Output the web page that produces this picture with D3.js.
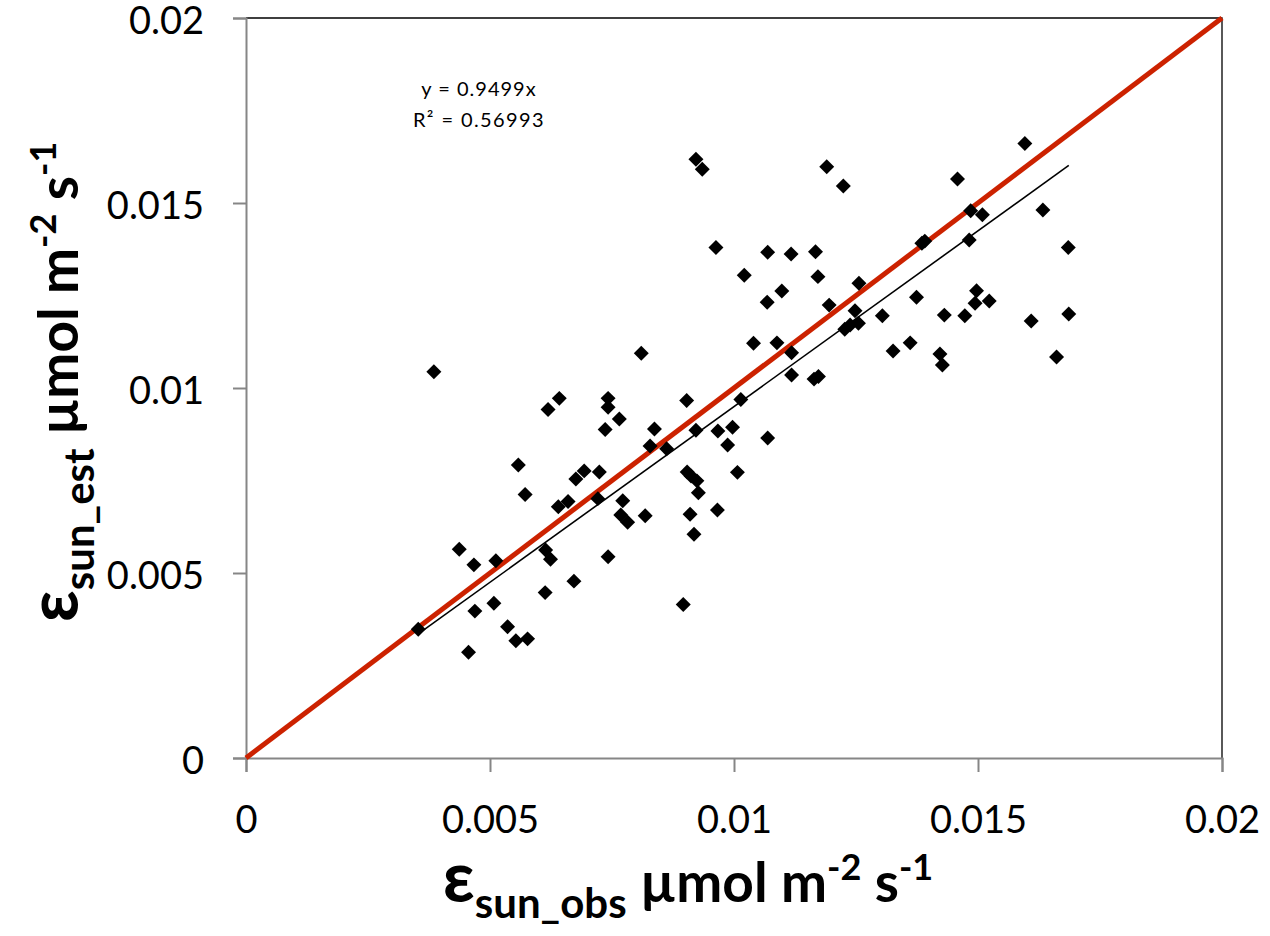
<!DOCTYPE html>
<html>
<head>
<meta charset="utf-8">
<script src="https://cdn.jsdelivr.net/npm/d3@7"></script>
<style>
  body { margin: 0; background: #fff; }
  svg text { font-family: Lato, "Open Sans", sans-serif; }
</style>
</head>
<body>
<div id="chart"></div>
<script>
// observed vs estimated epsilon (sun)
const obsValues = [
  0.00353, 0.00385, 0.00437, 0.00456, 0.00467, 0.00469, 0.00508, 0.00512, 0.00536, 0.00553,
  0.00558, 0.00572, 0.00577, 0.00613, 0.00614, 0.00619, 0.00624, 0.00640, 0.00642, 0.00660,
  0.00672, 0.00676, 0.00693, 0.00724, 0.00721, 0.00736, 0.00742, 0.00742, 0.00742, 0.00765,
  0.00772, 0.00768, 0.00782, 0.00810, 0.00818, 0.00828, 0.00837, 0.00862, 0.00896, 0.00903,
  0.00904, 0.00912, 0.00924, 0.00927, 0.00910, 0.00918, 0.00922, 0.00935, 0.00922, 0.00963,
  0.00967, 0.00966, 0.00987, 0.00997, 0.01007, 0.01014, 0.01021, 0.01040, 0.01069, 0.01068,
  0.01069, 0.01088, 0.01098, 0.01117, 0.01118, 0.01118, 0.01164, 0.01173, 0.01167, 0.01172,
  0.01190, 0.01195, 0.01224, 0.01227, 0.01238, 0.01255, 0.01248, 0.01256, 0.01304, 0.01326,
  0.01361, 0.01374, 0.01385, 0.01391, 0.01422, 0.01427, 0.01431, 0.01458, 0.01473, 0.01482,
  0.01485, 0.01497, 0.01494, 0.01509, 0.01523, 0.01596, 0.01609, 0.01633, 0.01661, 0.01685,
  0.01686
];
const estValues = [
  0.00348, 0.01044, 0.00564, 0.00286, 0.00522, 0.00397, 0.00418, 0.00533, 0.00355, 0.00317,
  0.00792, 0.00712, 0.00322, 0.00447, 0.00562, 0.00942, 0.00537, 0.00679, 0.00972, 0.00693,
  0.00478, 0.00754, 0.00776, 0.00773, 0.00701, 0.00888, 0.00972, 0.00948, 0.00544, 0.00916,
  0.00695, 0.00657, 0.00637, 0.01094, 0.00655, 0.00843, 0.00889, 0.00836, 0.00415, 0.00966,
  0.00773, 0.00762, 0.00749, 0.00717, 0.00659, 0.00605, 0.01618, 0.01591, 0.00886, 0.01380,
  0.00884, 0.00670, 0.00846, 0.00894, 0.00772, 0.00969, 0.01305, 0.01121, 0.01367, 0.01232,
  0.00865, 0.01122, 0.01262, 0.01362, 0.01095, 0.01035, 0.01024, 0.01031, 0.01368, 0.01301,
  0.01598, 0.01224, 0.01546, 0.01159, 0.01170, 0.01175, 0.01209, 0.01283, 0.01195, 0.01100,
  0.01122, 0.01245, 0.01391, 0.01397, 0.01092, 0.01062, 0.01197, 0.01565, 0.01195, 0.01400,
  0.01479, 0.01263, 0.01229, 0.01468, 0.01235, 0.01661, 0.01181, 0.01481, 0.01084, 0.01380,
  0.01200
];
const axisTicks = [0, 0.005, 0.01, 0.015, 0.02];
const trendSlope = 0.9499;
const trendLabel = "y = 0.9499x";
const r2Label = "R² = 0.56993";

const width = 1270, height = 936;
const margin = { top: 18, right: 48, bottom: 178, left: 246 };
const plotW = width - margin.left - margin.right;
const plotH = height - margin.top - margin.bottom;

const svg = d3.select("#chart").append("svg")
    .attr("width", width)
    .attr("height", height);

const g = svg.append("g")
    .attr("transform", `translate(${margin.left},${margin.top})`);

const x = d3.scaleLinear().domain([0, 0.02]).range([0, plotW]);
const y = d3.scaleLinear().domain([0, 0.02]).range([plotH, 0]);

// plot frame (top + right)
g.append("path")
    .attr("d", `M0,0H${plotW}V${plotH}`)
    .attr("fill", "none")
    .attr("stroke", "#000")
    .attr("stroke-width", 1.3);

const fmt = d => d === 0 ? "0" : String(+d.toFixed(3));

const xAxis = g.append("g")
    .attr("transform", `translate(0,${plotH})`)
    .call(d3.axisBottom(x).tickValues(axisTicks).tickFormat(fmt).tickSize(14).tickPadding(34));
const yAxis = g.append("g")
    .call(d3.axisLeft(y).tickValues(axisTicks).tickFormat(fmt).tickSize(13).tickPadding(29));

[xAxis, yAxis].forEach(a => {
    a.select(".domain").attr("stroke", "#868686").attr("stroke-width", 2);
    a.selectAll(".tick line").attr("stroke", "#868686").attr("stroke-width", 2);
    a.selectAll(".tick text")
        .attr("fill", "#000")
        .style("font-size", "38px");
});
yAxis.selectAll(".tick text").attr("dy", "0.4em");

// 1:1 line
g.append("line")
    .attr("x1", x(0)).attr("y1", y(0))
    .attr("x2", x(0.02)).attr("y2", y(0.02))
    .attr("stroke", "#cc2200")
    .attr("stroke-width", 5);

// trend line over the data range
const xMin = d3.min(obsValues), xMax = d3.max(obsValues);
g.append("line")
    .attr("x1", x(xMin)).attr("y1", y(xMin * trendSlope))
    .attr("x2", x(xMax)).attr("y2", y(xMax * trendSlope))
    .attr("stroke", "#000")
    .attr("stroke-width", 1.6);

const points = obsValues.map((v, i) => [v, estValues[i]]);
g.selectAll(".pt")
    .data(points)
    .enter().append("path")
    .attr("class", "pt")
    .attr("d", d3.symbol().type(d3.symbolSquare).size(112))
    .attr("transform", d => `translate(${x(d[0])},${y(d[1])}) rotate(45)`)
    .attr("fill", "#000");

// equation
g.append("text")
    .attr("x", 233).attr("y", 78)
    .attr("text-anchor", "middle")
    .style("font-size", "20px")
    .style("letter-spacing", "1px")
    .text(trendLabel);
g.append("text")
    .attr("x", 233).attr("y", 109)
    .attr("text-anchor", "middle")
    .style("font-size", "20px")
    .style("letter-spacing", "1.4px")
    .text(r2Label);

// axis titles
function title(sel, sub) {
    sel.attr("text-anchor", "middle").style("font-weight", "bold").attr("fill", "#000");
    sel.append("tspan").style("font-size", "70px").text("ε");
    sel.append("tspan").style("font-size", "42px").attr("dy", 16).text(sub);
    sel.append("tspan").style("font-size", "55px").attr("dy", -16).text(" µmol m");
    sel.append("tspan").style("font-size", "36px").attr("dy", -22).text("-2");
    sel.append("tspan").style("font-size", "55px").attr("dy", 22).text(" s");
    sel.append("tspan").style("font-size", "36px").attr("dy", -22).text("-1");
}

svg.append("text")
    .attr("x", 688).attr("y", 902)
    .call(title, "sun_obs");

svg.append("text")
    .attr("transform", "translate(78,382) rotate(-90)")
    .call(title, "sun_est");
</script>
</body>
</html>
